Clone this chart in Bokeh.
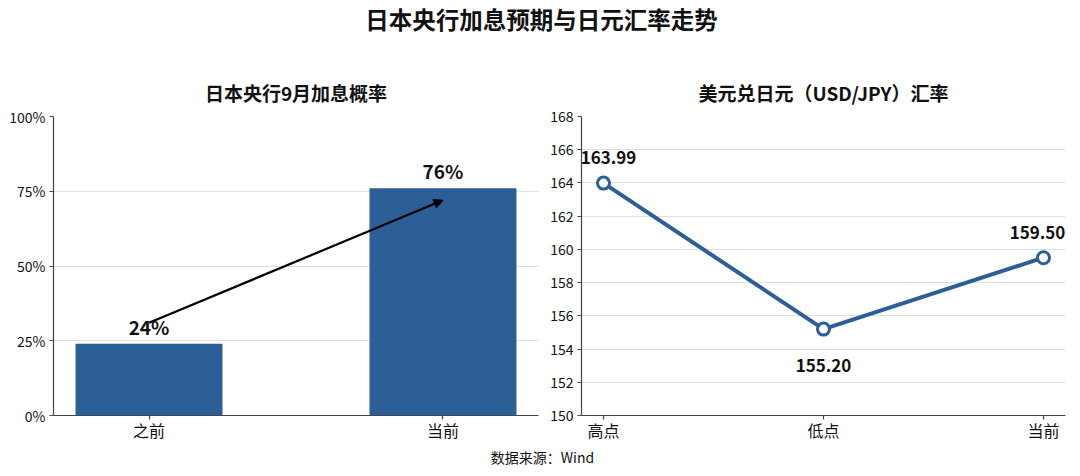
from bokeh.plotting import figure
from bokeh.layouts import column, row
from bokeh.models import (ColumnDataSource, Range1d, FixedTicker, PrintfTickFormatter,
                          LabelSet, Arrow, NormalHead)
from bokeh.embed import file_html
from bokeh.resources import INLINE
from bokeh.core.properties import value

# ---- data ----
main_title = "日本央行加息预期与日元汇率走势"
left_title = "日本央行9月加息概率"
right_title = "美元兑日元（USD/JPY）汇率"
source_note = "数据来源：Wind"

prob_categories = ["之前", "当前"]
prob_values = [24, 76]
prob_ticks = [0, 25, 50, 75, 100]

fx_categories = ["高点", "低点", "当前"]
fx_values = [163.99, 155.20, 159.50]
fx_ticks = [150, 152, 154, 156, 158, 160, 162, 164, 166, 168]

FONT = "Noto Sans CJK SC"
BLUE = "#2c5f98"
AXIS = "#444444"
GRID = "#e0e0e0"
TXT = "#111111"

HEADER_H = 105


def style_axes(p):
    p.outline_line_color = None
    p.xgrid.visible = False
    p.ygrid.grid_line_color = GRID
    p.ygrid.grid_line_width = 1
    for ax in (p.xaxis, p.yaxis):
        ax.axis_line_color = AXIS
        ax.axis_line_width = 1.2
        ax.major_tick_line_color = AXIS
        ax.major_tick_line_width = 1.2
        ax.major_tick_out = 4
        ax.major_tick_in = 0
        ax.minor_tick_line_color = None
        ax.major_label_text_font = FONT
        ax.major_label_text_color = TXT
    p.yaxis.major_label_text_font_size = "14px"
    p.xaxis.major_label_text_font_size = "16px"
    p.yaxis.major_label_standoff = 4
    p.xaxis.major_label_standoff = -2


# ---- header (titles) ----
header = figure(width=1080, height=HEADER_H, x_range=Range1d(0, 1080),
                y_range=Range1d(HEADER_H, 0),
                x_axis_type=None, y_axis_type=None, toolbar_location=None,
                output_backend="svg", min_border=0)
header.outline_line_color = None
header.grid.visible = False
header.text(x=[541], y=[18], text=[main_title], text_font=value(FONT),
            text_font_size="23.5px", text_font_style="bold", text_align="center",
            text_baseline="middle", text_color=TXT)
header.text(x=[295.5, 823], y=[91.5, 91.5], text=[left_title, right_title],
            text_font=value(FONT), text_font_size="19px", text_font_style="bold",
            text_align="center", text_baseline="middle", text_color=TXT)

# ---- left: probability bars ----
top_border = 116 - HEADER_H
p1 = figure(frame_width=485, frame_height=299, x_range=Range1d(-0.325, 1.325),
            y_range=Range1d(0, 100), toolbar_location=None, output_backend="svg",
            min_border_left=53, min_border_right=7, min_border_top=top_border,
            min_border_bottom=30)
style_axes(p1)
src1 = ColumnDataSource(dict(x=list(range(len(prob_categories))), v=prob_values,
                             lab=[f"{v}%" for v in prob_values]))
p1.vbar(x="x", top="v", width=0.5, source=src1, fill_color=BLUE, line_color=None)
p1.xaxis.ticker = FixedTicker(ticks=list(range(len(prob_categories))))
p1.xaxis.major_label_overrides = {i: c for i, c in enumerate(prob_categories)}
p1.yaxis.ticker = FixedTicker(ticks=prob_ticks)
p1.yaxis.formatter = PrintfTickFormatter(format="%d%%")
p1.add_layout(Arrow(end=NormalHead(size=9, fill_color="black", line_color="black"),
                    x_start=0, y_start=prob_values[0] + 7, x_end=1, y_end=prob_values[1] - 4,
                    line_color="black", line_width=2.2))
p1.add_layout(LabelSet(x="x", y="v", text="lab", source=src1, y_offset=9,
                       text_align="center", text_baseline="alphabetic",
                       text_font=value(FONT), text_font_size="19px",
                       text_font_style="bold", text_color=TXT))

# ---- right: USD/JPY line ----
p2 = figure(frame_width=484, frame_height=299, x_range=Range1d(-0.1, 2.1),
            y_range=Range1d(150, 168), toolbar_location=None, output_backend="svg",
            min_border_left=36, min_border_right=15, min_border_top=top_border,
            min_border_bottom=30)
style_axes(p2)
label_dy = [19, -43, 19]
label_dx = [5, 0, -6]
src2 = ColumnDataSource(dict(x=list(range(len(fx_categories))), v=fx_values,
                             lab=[f"{v:.2f}" for v in fx_values], dy=label_dy, dx=label_dx))
p2.line(x="x", y="v", source=src2, line_color=BLUE, line_width=4)
p2.scatter(x="x", y="v", source=src2, size=12, fill_color="white", line_color=BLUE,
           line_width=3)
p2.xaxis.ticker = FixedTicker(ticks=list(range(len(fx_categories))))
p2.xaxis.major_label_overrides = {i: c for i, c in enumerate(fx_categories)}
p2.yaxis.ticker = FixedTicker(ticks=fx_ticks)
p2.add_layout(LabelSet(x="x", y="v", text="lab", source=src2, y_offset="dy", x_offset="dx",
                       text_align="center", text_baseline="alphabetic",
                       text_font=value(FONT), text_font_size="17px",
                       text_font_style="bold", text_color=TXT))

# ---- footer ----
footer = figure(width=1080, height=31, x_range=Range1d(0, 1080), y_range=Range1d(476, 445),
                x_axis_type=None, y_axis_type=None, toolbar_location=None,
                output_backend="svg", min_border=0)
footer.outline_line_color = None
footer.grid.visible = False
footer.text(x=[542], y=[456.5], text=[source_note], text_font=value(FONT),
            text_font_size="14px", text_align="center", text_baseline="middle",
            text_color=TXT)

layout = column(header, row(p1, p2), footer, spacing=0)
open("out.html", "w").write(file_html(layout, INLINE))
